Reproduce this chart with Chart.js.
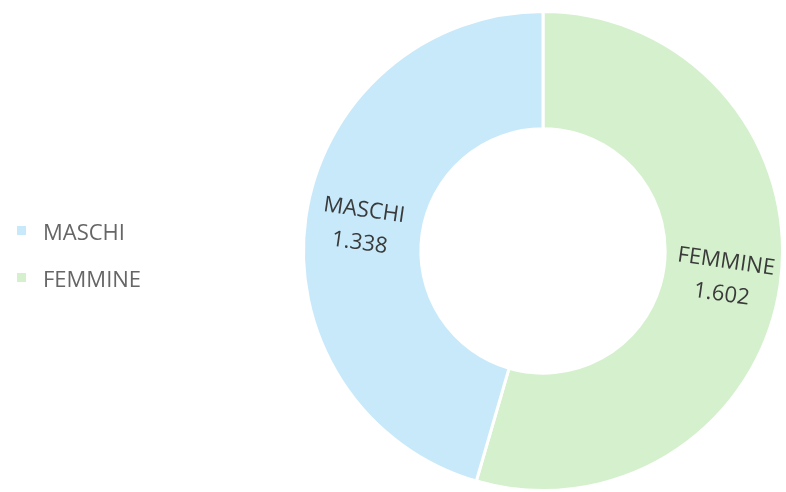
<!DOCTYPE html>
<html>
<head>
<meta charset="utf-8">
<script src="https://cdn.jsdelivr.net/npm/chart.js@4"></script>
<style>
  html, body { margin: 0; padding: 0; background: #fff; }
  #wrap { position: relative; width: 786px; height: 492px; }
  #legenda { position: absolute; left: 17px; top: 207px; font-family: "Open Sans", sans-serif; font-size: 22px; color: #666; }
  .voce { display: flex; align-items: center; height: 47px; }
  .quadro { width: 9px; height: 9px; margin-right: 17px; }
</style>
</head>
<body>
<div id="wrap">
  <canvas id="chartGenere" width="786" height="492"></canvas>
  <div id="legenda"></div>
</div>
<script>
// dati (ordine orario partendo dall'alto)
var categorie = ["FEMMINE", "MASCHI"];
var valori = [1602, 1338];
var colori = ["#d5f0cd", "#c7e9fa"];

function formatoIt(n) {
    return String(n).replace(/\B(?=(\d{3})+(?!\d))/g, ".");
}

// legenda html, MASCHI prima
var leg = document.getElementById("legenda");
for (var i = categorie.length - 1; i >= 0; i--) {
    var v = document.createElement("div");
    v.className = "voce";
    v.innerHTML = '<span class="quadro" style="background:' + colori[i] + '"></span>' + categorie[i];
    leg.appendChild(v);
}

// etichette ruotate lungo il raggio
var etichette = {
    id: "etichette",
    afterDatasetsDraw: function (chart) {
        var ctx = chart.ctx;
        var meta = chart.getDatasetMeta(0);
        meta.data.forEach(function (arc, i) {
            var p = arc.getProps(["x", "y", "startAngle", "endAngle", "innerRadius", "outerRadius"], true);
            var mid = (p.startAngle + p.endAngle) / 2;
            var r = (p.innerRadius + p.outerRadius) / 2 + 2;
            var x = p.x + Math.cos(mid) * r;
            var y = p.y + Math.sin(mid) * r;
            var ang = mid;
            if (Math.cos(mid) < 0) ang += Math.PI;
            ctx.save();
            ctx.translate(x, y);
            ctx.rotate(ang);
            ctx.fillStyle = "#3a3a3a";
            ctx.font = '22px "Open Sans", sans-serif';
            ctx.textAlign = "center";
            ctx.textBaseline = "middle";
            ctx.fillText(categorie[i], 0, -15);
            ctx.fillText(formatoIt(valori[i]), 0, 18);
            ctx.restore();
        });
    }
};

var ctx = document.getElementById("chartGenere").getContext("2d");
var myChart = new Chart(ctx, {
    type: "doughnut",
    data: {
        labels: categorie,
        datasets: [{
            data: valori,
            backgroundColor: colori,
            borderColor: "#ffffff",
            borderWidth: 3
        }]
    },
    options: {
        responsive: false,
        animation: false,
        cutout: "51%",
        layout: { padding: { left: 300, right: 0, top: 10, bottom: 0 } },
        plugins: {
            legend: { display: false },
            tooltip: { enabled: false }
        }
    },
    plugins: [etichette]
});
</script>
</body>
</html>
